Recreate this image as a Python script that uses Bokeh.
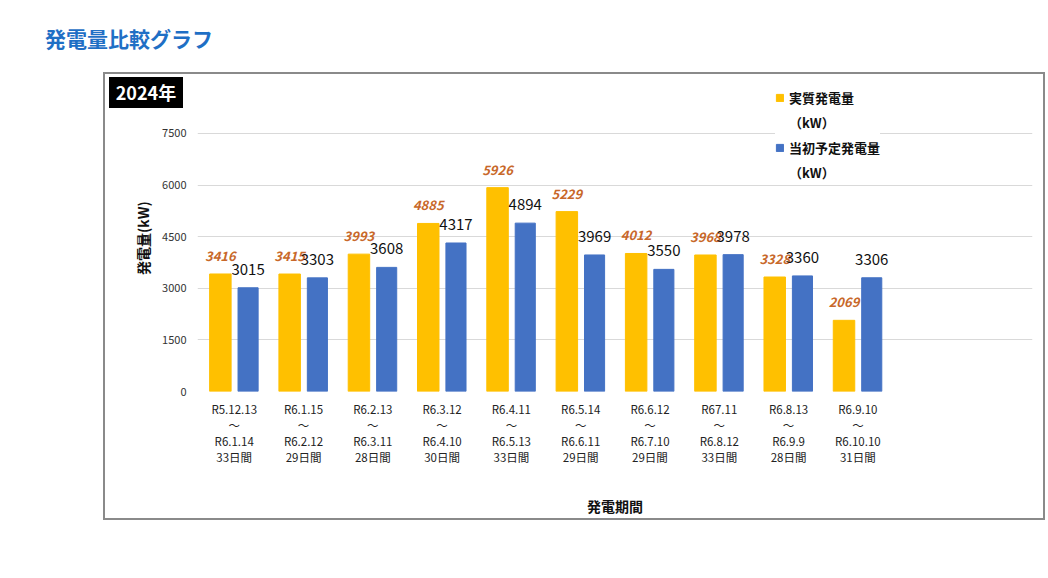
from bokeh.plotting import figure
from bokeh.models import ColumnDataSource, LabelSet, Legend, LegendItem, FixedTicker, Range1d, Div
from bokeh.layouts import column
from bokeh.core.properties import value
from bokeh.embed import file_html
from bokeh.resources import INLINE

period_start = ["R5.12.13", "R6.1.15", "R6.2.13", "R6.3.12", "R6.4.11",
                "R6.5.14", "R6.6.12", "R67.11", "R6.8.13", "R6.9.10"]
period_end = ["R6.1.14", "R6.2.12", "R6.3.11", "R6.4.10", "R6.5.13",
              "R6.6.11", "R6.7.10", "R6.8.12", "R6.9.9", "R6.10.10"]
days = ["33日間", "29日間", "28日間", "30日間", "33日間",
        "29日間", "29日間", "33日間", "28日間", "31日間"]
actual = [3416, 3415, 3993, 4885, 5926, 5229, 4012, 3968, 3328, 2069]
planned = [3015, 3303, 3608, 4317, 4894, 3969, 3550, 3978, 3360, 3306]
y_ticks = [0, 1500, 3000, 4500, 6000, 7500]

JP = "Noto Sans CJK JP"
YELLOW = "#FFC000"
BLUE = "#4472C4"

idx = list(range(len(actual)))
src = ColumnDataSource(dict(
    xa=[i - 0.2 for i in idx], xp=[i + 0.2 for i in idx],
    actual=actual, planned=planned,
    ta=[str(v) for v in actual], tp=[str(v) for v in planned],
))

X0, X1, Y1 = -0.53, 11.52, 8924
p = figure(width=942, height=448, x_range=Range1d(X0, X1), y_range=Range1d(0, Y1),
           output_backend="svg", toolbar_location=None,
           min_border_left=92, min_border_right=15, min_border_top=10, min_border_bottom=131,
           outline_line_color=None, background_fill_color="white", border_fill_color="white",
           styles={"border": "2px solid #8a8a8a"})

ra = p.vbar(x="xa", top="actual", width=0.31, source=src, color=YELLOW)
rp = p.vbar(x="xp", top="planned", width=0.29, source=src, color=BLUE)
rk = p.scatter(x=[], y=[], alpha=0)

p.add_layout(LabelSet(x="xa", y="actual", text="ta", source=src, y_offset=13,
                      text_align="center", text_baseline="bottom",
                      text_font=value(JP), text_font_size="13px", text_font_style="bold italic",
                      text_color="#C8682A"))
p.add_layout(LabelSet(x="xp", y="planned", text="tp", source=src, y_offset=13,
                      text_align="center", text_baseline="bottom",
                      text_font=value(JP), text_font_size="15px", text_color="#111111"))

p.xgrid.visible = False
p.ygrid.grid_line_color = "#d9d9d9"
p.ygrid.grid_line_width = 1

p.yaxis.ticker = FixedTicker(ticks=y_ticks)
p.yaxis.axis_line_color = None
p.yaxis.major_tick_line_color = None
p.yaxis.minor_tick_line_color = None
p.yaxis.major_label_text_font = JP
p.yaxis.major_label_text_font_size = "11px"
p.yaxis.major_label_text_color = "#333333"
p.yaxis.major_label_standoff = 5
p.yaxis.axis_label = "発電量(kW)"
p.yaxis.axis_label_text_font = JP
p.yaxis.axis_label_text_font_size = "14px"
p.yaxis.axis_label_text_font_style = "bold"
p.yaxis.axis_label_text_color = "#111111"
p.yaxis.axis_label_standoff = 6

p.xaxis.ticker = FixedTicker(ticks=idx)
p.xaxis.major_label_overrides = {i: f"{period_start[i]}\n〜\n{period_end[i]}\n{days[i]}" for i in idx}
p.xaxis.axis_line_color = None
p.xaxis.major_tick_line_color = None
p.xaxis.minor_tick_line_color = None
p.xaxis.major_label_text_font = JP
p.xaxis.major_label_text_font_size = "11.5px"
p.xaxis.major_label_text_color = "#222222"
p.xaxis.major_label_text_line_height = 1.0
p.xaxis.major_label_standoff = 3
p.xaxis.axis_label = "発電期間"
p.xaxis.axis_label_text_font = JP
p.xaxis.axis_label_text_font_size = "14px"
p.xaxis.axis_label_text_font_style = "bold"
p.xaxis.axis_label_text_color = "#111111"
p.xaxis.axis_label_standoff = 28

legend = Legend(items=[LegendItem(label="実質発電量", renderers=[ra]),
                       LegendItem(label="（kW）", renderers=[rk]),
                       LegendItem(label="当初予定発電量", renderers=[rp]),
                       LegendItem(label="（kW）", renderers=[rk])],
                location=(578, 209), orientation="vertical",
                label_text_font=JP, label_text_font_size="13px", label_text_font_style="bold",
                label_text_color="#111111", label_height=18,
                glyph_width=9, glyph_height=9, spacing=6, padding=6,
                background_fill_color="white", background_fill_alpha=1.0,
                border_line_color=None)
p.add_layout(legend, "center")

title = Div(text='<div style="font-family:\'Noto Sans CJK JP\';font-weight:bold;font-size:21px;'
                 'color:#1F6FC5;line-height:1;">発電量比較グラフ</div>',
            width=400, height=44, margin=(28, 0, 0, 45))

badge = Div(text='<div style="font-family:\'Noto Sans CJK JP\';font-weight:bold;font-size:18px;'
                 'color:white;background:#000;width:74px;height:31px;line-height:31px;'
                 'text-align:center;">2024年</div>',
            width=74, height=31, margin=(5, 0, -36, 109), styles={"z-index": "10"})

p.margin = (0, 0, 0, 103)

layout = column(title, badge, p, spacing=0)
open("out.html", "w").write(file_html(layout, INLINE))
